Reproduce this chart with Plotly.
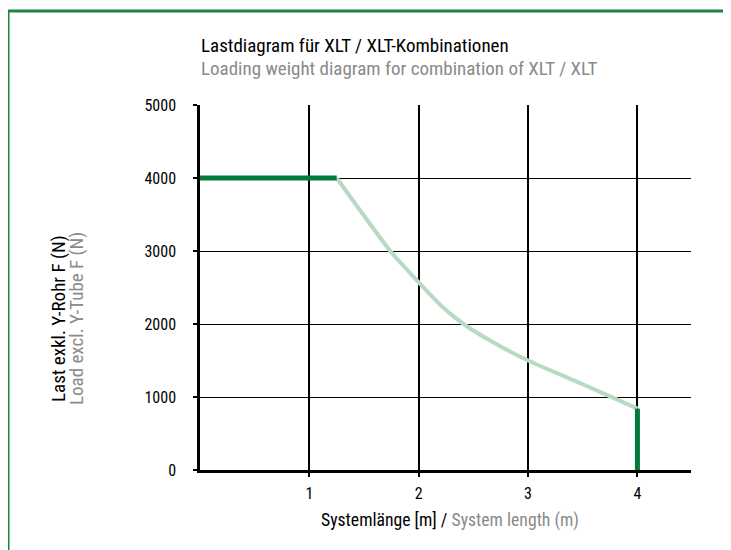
import plotly.graph_objects as go

# data
flat_x = [0, 1.25]
flat_y = [4000, 4000]
curve_x = [1.25, 1.74, 2.0, 2.22, 2.41, 2.68, 3.0, 3.5, 3.77, 4.0]
curve_y = [4000, 3000, 2570, 2230, 2000, 1750, 1500, 1175, 995, 840]
end_x = [4.0, 4.0]
end_y = [0, 840]
x_ticks = [1, 2, 3, 4]
y_ticks = [0, 1000, 2000, 3000, 4000, 5000]

DARK = "#007A3D"
LIGHT = "#B7DBC2"
GRAY = "#8a8a8a"
FONT = "Roboto Condensed, Liberation Sans Narrow, sans-serif"
WT = 400

fig = go.Figure()
fig.add_trace(go.Scatter(x=curve_x, y=curve_y, mode="lines",
                         line=dict(color=LIGHT, width=4, shape="spline", smoothing=0.5),
                         hoverinfo="skip"))
fig.add_trace(go.Scatter(x=flat_x, y=flat_y, mode="lines",
                         line=dict(color=DARK, width=5), hoverinfo="skip"))
fig.add_trace(go.Scatter(x=end_x, y=end_y, mode="lines",
                         line=dict(color=DARK, width=5), hoverinfo="skip"))

L, R, T, B = 192, 48, 97, 88
W, H = 731, 550
pw, ph = W - L - R, H - T - B

def px(x):
    return (x - L) / pw

def py(y):
    return (H - B - y) / ph

fig.update_layout(
    width=W, height=H,
    margin=dict(l=L, r=R, t=T, b=B),
    paper_bgcolor="white", plot_bgcolor="white",
    showlegend=False,
    font=dict(family=FONT, size=15, color="black", weight=WT),
    xaxis=dict(range=[0, 4.49], tickvals=x_ticks, ticks="outside", ticklen=4,
               tickwidth=2, tickcolor="black", showgrid=True, gridcolor="black",
               gridwidth=1.5, showline=True, linecolor="black", linewidth=2.5,
               zeroline=False, ticklabelstandoff=3,
               tickfont=dict(family=FONT, size=16, weight=WT)),
    yaxis=dict(range=[0, 5000], tickvals=y_ticks, ticks="outside", ticklen=4,
               tickwidth=2, tickcolor="black", showgrid=True, gridcolor="black",
               gridwidth=1, showline=True, linecolor="black", linewidth=2.5,
               zeroline=False, ticklabelstandoff=14,
               tickfont=dict(family=FONT, size=16, weight=WT)),
    shapes=[dict(type="rect", xref="paper", yref="paper",
                 x0=px(0), x1=px(780), y0=py(620), y1=py(3),
                 line=dict(color="#1E8445", width=3), layer="below")],
    annotations=[
        dict(text="Lastdiagram für XLT / XLT-Kombinationen", xref="paper", yref="paper",
             x=px(191), y=py(37), xanchor="left", yanchor="middle", showarrow=False,
             font=dict(family=FONT, size=19, color="black", weight=WT)),
        dict(text="Loading weight diagram for combination of XLT / XLT", xref="paper", yref="paper",
             x=px(191), y=py(60), xanchor="left", yanchor="middle", showarrow=False,
             font=dict(family=FONT, size=19, color=GRAY, weight=WT)),
        dict(text="Last exkl. Y-Rohr F (N)", xref="paper", yref="paper",
             x=px(50), y=py(311), xanchor="center", yanchor="middle", showarrow=False,
             textangle=-90, font=dict(family=FONT, size=19, color="black", weight=WT)),
        dict(text="Load excl. Y-Tube F (N)", xref="paper", yref="paper",
             x=px(68), y=py(311), xanchor="center", yanchor="middle", showarrow=False,
             textangle=-90, font=dict(family=FONT, size=19, color=GRAY, weight=WT)),
        dict(text="Systemlänge [m] / <span style='color:#8a8a8a'>System length (m)</span>",
             xref="paper", yref="paper",
             x=px(442), y=py(512), xanchor="center", yanchor="middle", showarrow=False,
             font=dict(family=FONT, size=17.7, color="black", weight=WT)),
    ],
)

fig.write_html("out.html")
